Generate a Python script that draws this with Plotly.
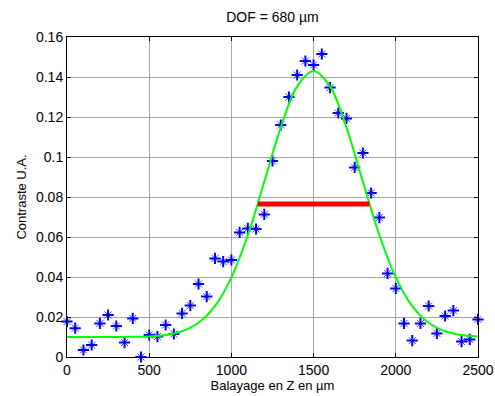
import plotly.graph_objects as go

# Measured data points (Balayage en Z, µm ; Contraste U.A.)
z_um = [0, 50, 100, 150, 200, 250, 300, 350, 400, 450,
        500, 550, 600, 650, 700, 750, 800, 850, 900, 950,
        1000, 1050, 1100, 1150, 1200, 1250, 1300, 1350, 1400, 1450,
        1500, 1550, 1600, 1650, 1700, 1750, 1800, 1850, 1900, 1950,
        2000, 2050, 2100, 2150, 2200, 2250, 2300, 2350, 2400, 2450, 2500]
contraste = [0.0177, 0.0144, 0.0035, 0.0060, 0.0168, 0.0210, 0.0155, 0.0072, 0.0193, 0.0000,
             0.0110, 0.0102, 0.0160, 0.0115, 0.0218, 0.0257, 0.0365, 0.0302, 0.0493, 0.0477,
             0.0485, 0.0623, 0.0643, 0.0640, 0.0713, 0.0980, 0.1160, 0.1300, 0.1410, 0.1480,
             0.1460, 0.1515, 0.1347, 0.1220, 0.1193, 0.0948, 0.1020, 0.0820, 0.0697, 0.0418,
             0.0343, 0.0168, 0.0082, 0.0168, 0.0255, 0.0118, 0.0205, 0.0232, 0.0077, 0.0088, 0.0188]

# Fitted curve
fit_z = [0, 100, 200, 300, 400, 500, 600, 700, 800, 900, 1000, 1100, 1200, 1300,
         1400, 1500, 1600, 1700, 1800, 1900, 2000, 2100, 2200, 2300, 2400, 2500]
fit_c = [0.0100, 0.0100, 0.0100, 0.0100, 0.0101, 0.0103, 0.0110, 0.0129, 0.0171, 0.0254,
         0.0398, 0.0610, 0.0876, 0.1147, 0.1353, 0.1430, 0.1353, 0.1147, 0.0876, 0.0610,
         0.0398, 0.0254, 0.0171, 0.0129, 0.0110, 0.0103]

# Half-maximum segment (DOF)
dof_z = [1160, 1840]
dof_c = [0.0765, 0.0765]

x_ticks = [0, 500, 1000, 1500, 2000, 2500]
y_ticks = [0, 0.02, 0.04, 0.06, 0.08, 0.1, 0.12, 0.14, 0.16]
y_labels = ["0", "0.02", "0.04", "0.06", "0.08", "0.1", "0.12", "0.14", "0.16"]

font = "Liberation Sans, Arial, sans-serif"

fig = go.Figure()
# MATLAB-like '*' marker: bold plus + thin diagonal cross
fig.add_trace(go.Scatter(x=z_um, y=contraste, mode="markers",
                         marker=dict(symbol="x-thin-open", size=7, color="#4040ff",
                                     line=dict(color="#4040ff", width=1)),
                         showlegend=False, cliponaxis=False, hoverinfo="skip"))
fig.add_trace(go.Scatter(x=z_um, y=contraste, mode="markers",
                         marker=dict(symbol="cross-thin-open", size=8, color="#0000ff",
                                     line=dict(color="#0000ff", width=2)),
                         showlegend=False, cliponaxis=False))
fig.add_trace(go.Scatter(x=fit_z, y=fit_c, mode="lines", line_shape="spline",
                         line=dict(color="#00ff00", width=2), showlegend=False))
fig.add_trace(go.Scatter(x=dof_z, y=dof_c, mode="lines",
                         line=dict(color="#ff0000", width=5), showlegend=False))

axis_common = dict(showline=True, linecolor="black", linewidth=1, mirror="ticks",
                   ticks="inside", ticklen=4, tickcolor="black", automargin=False,
                   showgrid=True, gridcolor="#a8a8a8", gridwidth=1, zeroline=False,
                   tickfont=dict(family=font, size=14, color="black"))

fig.update_layout(
    width=495, height=396,
    margin=dict(l=67, r=17, t=37, b=39),
    paper_bgcolor="white", plot_bgcolor="white",
    title=dict(text="DOF = 680 µm", xref="paper", x=0.5, xanchor="center",
               yref="container", y=0.957, yanchor="middle",
               font=dict(family=font, size=14, color="black")),
    xaxis=dict(range=[0, 2500], tickvals=x_ticks, ticktext=[str(v) for v in x_ticks],
               title=dict(text="Balayage en Z en µm", standoff=2,
                          font=dict(family=font, size=13, color="black")),
               **axis_common),
    yaxis=dict(range=[0, 0.16], tickvals=y_ticks, ticktext=y_labels,
               title=dict(text="Contraste U.A.", standoff=6,
                          font=dict(family=font, size=13, color="black")),
               **axis_common),
)

fig.write_html("out.html", config={"displayModeBar": False},
               post_script="document.body.style.margin='0';document.body.style.overflow='hidden';")
